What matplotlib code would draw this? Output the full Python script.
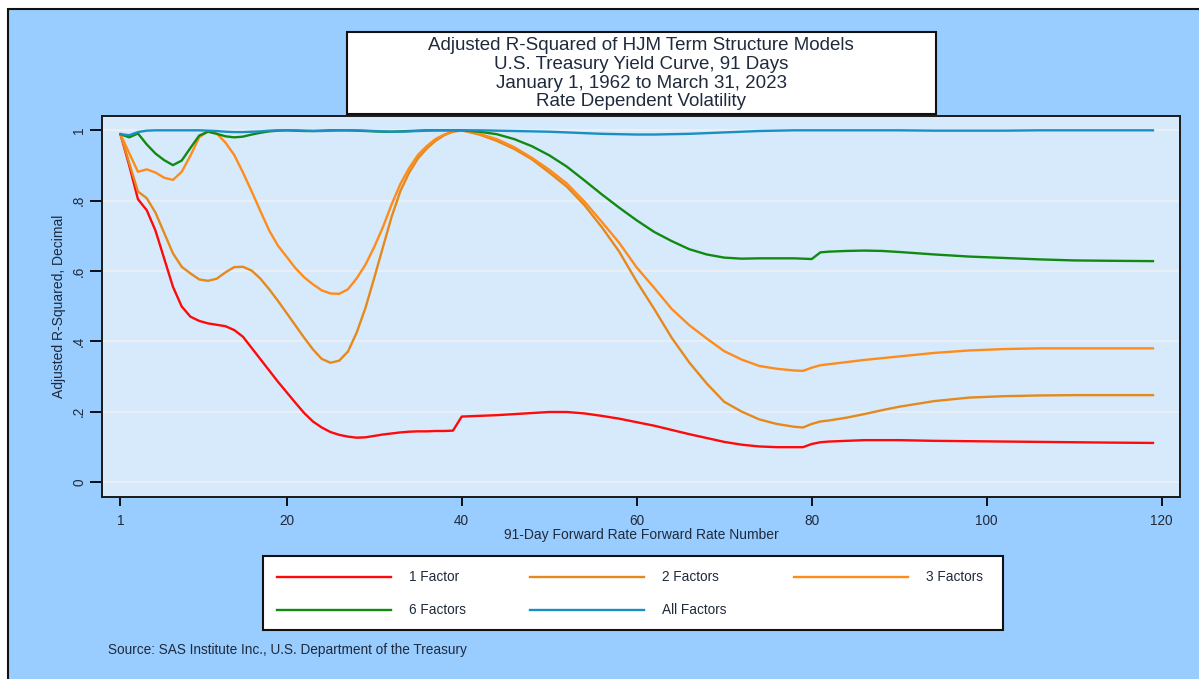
import matplotlib
matplotlib.use("Agg")
import matplotlib.pyplot as plt
import matplotlib.patches as mpatches
from matplotlib.lines import Line2D

plt.rcParams["font.family"] = ["Liberation Sans", "DejaVu Sans"]

W, H = 1199, 679

# ── Data ──────────────────────────────────────────────────────────────────────
x = list(range(1, 41)) + list(range(42, 79, 2)) + [79, 80, 81, 82, 84, 86, 88, 90,
                                                   94, 98, 102, 106, 110, 114, 119]

f1 = [0.989, 0.900, 0.804, 0.773, 0.715, 0.635, 0.555, 0.499, 0.470, 0.458,
      0.451, 0.447, 0.443, 0.432, 0.413, 0.381, 0.349, 0.317, 0.285, 0.255,
      0.225, 0.196, 0.172, 0.155, 0.142, 0.134, 0.129, 0.126, 0.127, 0.131,
      0.135, 0.138, 0.141, 0.143, 0.144, 0.144, 0.145, 0.145, 0.146, 0.186,
      0.188, 0.190, 0.193, 0.196, 0.199, 0.199, 0.195, 0.188, 0.180, 0.170,
      0.160, 0.148, 0.136, 0.125, 0.114, 0.106, 0.101, 0.099, 0.099,
      0.099, 0.108, 0.113, 0.115, 0.117, 0.119, 0.119, 0.119, 0.117, 0.116,
      0.115, 0.114, 0.113, 0.112, 0.111]

f2 = [0.989, 0.907, 0.826, 0.807, 0.766, 0.708, 0.650, 0.612, 0.593, 0.576,
      0.572, 0.578, 0.596, 0.611, 0.612, 0.601, 0.578, 0.548, 0.515, 0.480,
      0.445, 0.410, 0.377, 0.350, 0.339, 0.345, 0.371, 0.425, 0.495, 0.580,
      0.668, 0.755, 0.828, 0.880, 0.920, 0.948, 0.970, 0.986, 0.996, 1.000,
      0.988, 0.970, 0.947, 0.918, 0.880, 0.840, 0.788, 0.725, 0.655, 0.570,
      0.492, 0.410, 0.340, 0.280, 0.228, 0.200, 0.178, 0.165, 0.157,
      0.155, 0.165, 0.172, 0.175, 0.183, 0.193, 0.204, 0.214, 0.230, 0.240,
      0.244, 0.246, 0.247, 0.247, 0.247]

f3 = [0.989, 0.935, 0.882, 0.889, 0.880, 0.865, 0.859, 0.882, 0.928, 0.980,
      0.997, 0.991, 0.965, 0.930, 0.880, 0.826, 0.770, 0.715, 0.672, 0.640,
      0.608, 0.582, 0.562, 0.545, 0.536, 0.535, 0.548, 0.579, 0.618, 0.668,
      0.725, 0.790, 0.848, 0.893, 0.930, 0.955, 0.975, 0.988, 0.997, 1.000,
      0.990, 0.975, 0.952, 0.922, 0.888, 0.849, 0.798, 0.740, 0.680, 0.610,
      0.552, 0.492, 0.446, 0.408, 0.372, 0.348, 0.330, 0.322, 0.317,
      0.316, 0.325, 0.332, 0.335, 0.341, 0.347, 0.352, 0.357, 0.367, 0.374,
      0.378, 0.380, 0.380, 0.380, 0.380]

f6 = [0.989, 0.980, 0.991, 0.960, 0.934, 0.915, 0.901, 0.914, 0.950, 0.985,
      0.996, 0.990, 0.983, 0.980, 0.982, 0.988, 0.993, 0.997, 0.999, 1.000,
      0.999, 0.998, 0.998, 0.999, 1.000, 1.000, 1.000, 0.999, 0.998, 0.997,
      0.996, 0.996, 0.997, 0.998, 0.999, 1.000, 1.000, 1.000, 1.000, 1.000,
      0.996, 0.989, 0.975, 0.955, 0.929, 0.897, 0.858, 0.818, 0.780, 0.744,
      0.711, 0.685, 0.662, 0.647, 0.638, 0.635, 0.636, 0.636, 0.636,
      0.635, 0.634, 0.653, 0.655, 0.657, 0.658, 0.657, 0.654, 0.647, 0.641,
      0.637, 0.633, 0.630, 0.629, 0.628]

fall = [0.989, 0.986, 0.995, 0.999, 1.000, 1.000, 1.000, 1.000, 1.000, 1.000,
        0.999, 0.998, 0.996, 0.995, 0.995, 0.996, 0.997, 0.999, 1.000, 1.000,
        1.000, 0.999, 0.998, 0.998, 0.999, 1.000, 1.000, 1.000, 0.999, 0.998,
        0.997, 0.996, 0.996, 0.997, 0.998, 0.999, 1.000, 1.000, 1.000, 1.000,
        1.000, 0.999, 0.998, 0.997, 0.996, 0.994, 0.992, 0.990, 0.989, 0.988,
        0.988, 0.989, 0.990, 0.992, 0.994, 0.996, 0.998, 0.999, 1.000,
        1.000, 1.000, 1.000, 1.000, 1.000, 1.000, 1.000, 1.000, 0.999, 0.999,
        0.999, 1.000, 1.000, 1.000, 1.000]

labels = ["1 Factor", "2 Factors", "3 Factors", "6 Factors", "All Factors"]
series = [f1, f2, f3, f6, fall]
colors = ["#ff0a0a", "#e5891c", "#ff8c1a", "#128a12", "#1a8fc6"]

xticks = [1, 20, 40, 60, 80, 100, 120]
yticks = [0, 0.2, 0.4, 0.6, 0.8, 1.0]
ytick_labels = ["0", ".2", ".4", ".6", ".8", "1"]

title_lines = ["Adjusted R-Squared of HJM Term Structure Models",
               "U.S. Treasury Yield Curve, 91 Days",
               "January 1, 1962 to March 31, 2023",
               "Rate Dependent Volatility"]

OUTER = "#99ccff"
PLOTBG = "#d6eafc"
TXT = "#1f2a3c"


def fx(px):
    return px / W


def fy(py):
    return 1 - py / H


# ── Figure / background ──────────────────────────────────────────────────────
fig = plt.figure(figsize=(W / 100, H / 100), dpi=100)
fig.patch.set_facecolor("white")
fig.add_artist(mpatches.Rectangle((fx(8), -0.05), 1.1, fy(9) + 0.05,
                                  transform=fig.transFigure, facecolor=OUTER,
                                  edgecolor="#111111", lw=1.5, zorder=0))

# ── Plot area ────────────────────────────────────────────────────────────────
ax = fig.add_axes([fx(102), fy(497), fx(1180) - fx(102), fy(116) - fy(497)])
ax.set_facecolor(PLOTBG)
for s, lab, c in zip(series, labels, colors):
    ax.plot(x, s, color=c, lw=1.7, label=lab, solid_joinstyle="round", zorder=3)

ax.set_xlim(-1.11, 122.09)
ax.set_ylim(-0.0427, 1.0407)
ax.set_xticks(xticks)
ax.set_yticks(yticks)
ax.set_yticklabels(ytick_labels)
ax.grid(axis="y", color="#eaf0f4", lw=1.4, zorder=1)
ax.set_axisbelow(True)
for sp in ax.spines.values():
    sp.set_color("#1a1a1a")
    sp.set_linewidth(1.4)
ax.tick_params(axis="y", length=8.5, width=1.3, pad=3, labelsize=9.8,
               labelcolor=TXT, labelrotation=90)
ax.tick_params(axis="x", length=6.5, width=1.3, pad=6, labelsize=9.8,
               labelcolor=TXT)
for t in ax.get_yticklabels():
    t.set_va("center")
ax.set_xlabel("91-Day Forward Rate Forward Rate Number", fontsize=10,
              color=TXT, labelpad=0)
ax.set_ylabel("Adjusted R-Squared, Decimal", fontsize=10, color=TXT,
              labelpad=4)

# ── Title box ────────────────────────────────────────────────────────────────
fig.add_artist(mpatches.Rectangle((fx(347), fy(114)), fx(936) - fx(347),
                                  fy(32) - fy(114), transform=fig.transFigure,
                                  facecolor="white", edgecolor="#111111", lw=1.5))
for yy, line in zip([45, 64.3, 83.3, 101.7], title_lines):
    fig.text(fx(641), fy(yy), line, ha="center", va="center", fontsize=13.5,
             color=TXT)

# ── Legend box ───────────────────────────────────────────────────────────────
fig.add_artist(mpatches.Rectangle((fx(263), fy(630)), fx(1003) - fx(263),
                                  fy(556) - fy(630), transform=fig.transFigure,
                                  facecolor="white", edgecolor="#111111", lw=1.5))
col_x = [277, 530, 794]
row_y = [577, 609.5]
for i, (lab, c) in enumerate(zip(labels, colors)):
    cx = col_x[i % 3]
    ry = row_y[i // 3]
    fig.add_artist(Line2D([fx(cx), fx(cx + 114)], [fy(ry), fy(ry)],
                          transform=fig.transFigure, color=c, lw=1.7))
    fig.text(fx(cx + 132), fy(ry), lab, ha="left", va="center",
             fontsize=9.8, color=TXT)

fig.text(fx(108), fy(650), "Source: SAS Institute Inc., U.S. Department of the Treasury",
         ha="left", va="center", fontsize=9.8, color=TXT)

fig.savefig("out.png", dpi=100)
